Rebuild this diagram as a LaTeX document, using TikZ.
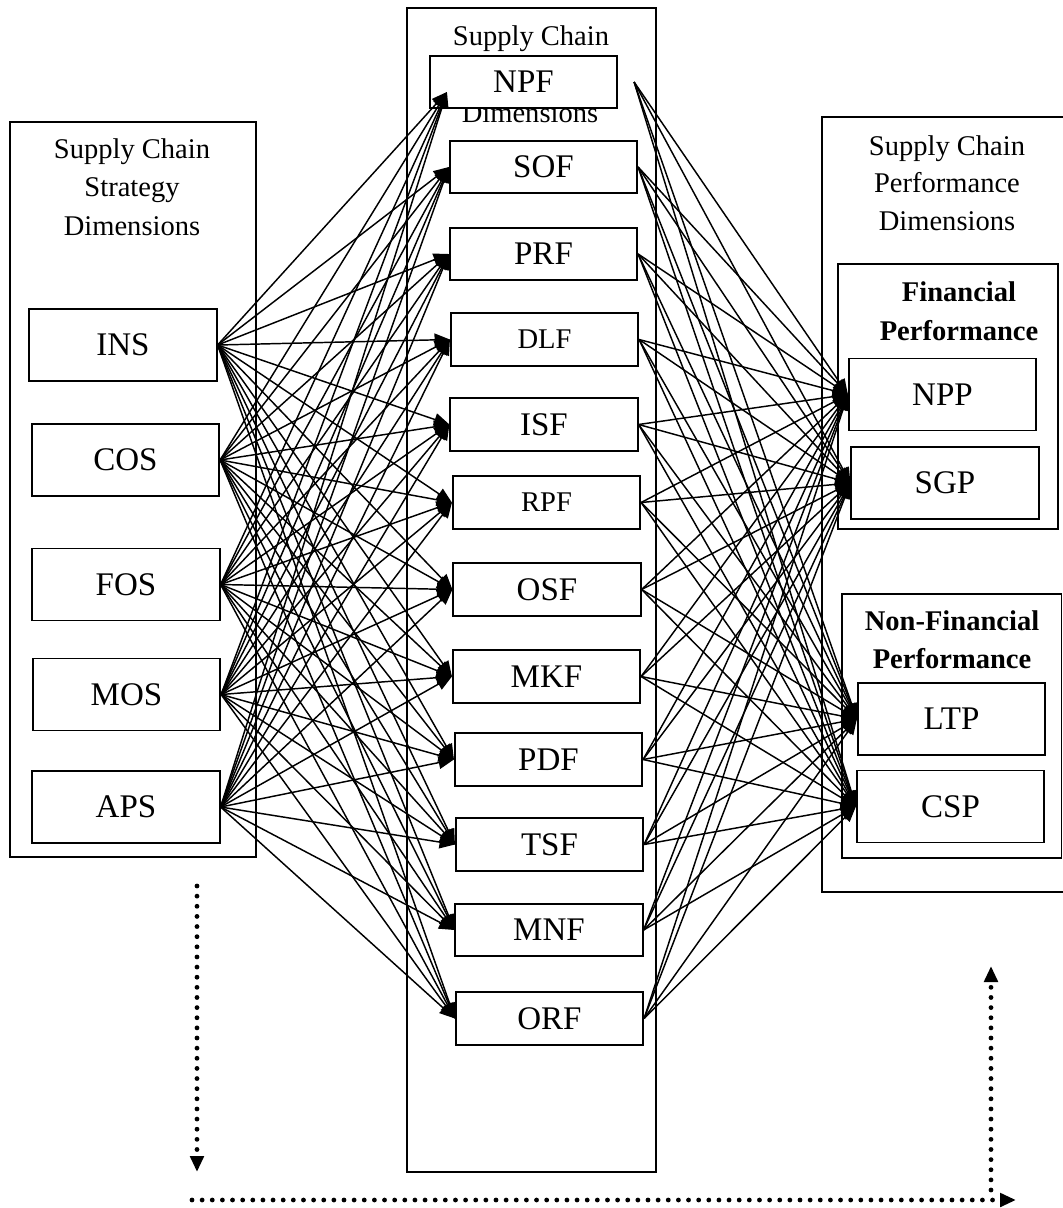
\documentclass[tikz,border=0pt]{standalone}
\usepackage{fontspec}
\setmainfont{Liberation Serif}
\usetikzlibrary{arrows.meta}
\begin{document}
\begin{tikzpicture}[x=0.75pt,y=-0.75pt,
  outer/.style={line width=1.4pt},
  nbox/.style={draw,line width=1.4pt,fill=white,inner sep=0pt,minimum width=140.5pt,font=\fontsize{24.75}{29}\selectfont},
  lbox/.style={nbox,minimum height=54pt},
  mbox/.style={nbox,minimum height=39.5pt},
  small/.style={font=\fontsize{21.4}{26}\selectfont},
  ttl/.style={anchor=base,inner sep=0pt,font=\fontsize{21.4}{26}\selectfont},
  bttl/.style={ttl,font=\fontsize{21.4}{26}\selectfont\bfseries},
  conn/.style={line width=1.1pt,-{Triangle[length=11.5pt,width=9.5pt]}},
  dots/.style={line width=3.6pt,dash pattern=on 0pt off 7.6pt,line cap=round,-{Triangle[length=12pt,width=10pt]}}]
\useasboundingbox (0,0) rectangle (1063,1208);
% outer group boxes
\draw[outer] (10,122) rectangle (256,857);
\draw[outer] (407,8) rectangle (656,1172);
\draw[outer] (1063,117) -| (822,892) -- (1063,892);
\draw[outer] (838,264) rectangle (1058,529);
\draw[outer] (842,594) rectangle (1061.5,858);
% titles
\node[ttl] (lt1) at (132,158) {Supply Chain};
\node[ttl] (lt2) at (132,196) {Strategy};
\node[ttl] (lt3) at (132,235) {Dimensions};
\node[ttl] (mt1) at (531,45) {Supply Chain};
\node[ttl] (mt2) at (530,122) {Dimensions};
\node[ttl] (rt1) at (947,155) {Supply Chain};
\node[ttl] (rt2) at (947,192) {Performance};
\node[ttl] (rt3) at (947,230) {Dimensions};
\node[bttl] (ft1) at (959,301) {Financial};
\node[bttl] (ft2) at (959,340) {Performance};
\node[bttl] (nt1) at (952,630) {Non-Financial};
\node[bttl] (nt2) at (952,668) {Performance};
% left nodes
\node[lbox] (INS) at (123,345) {INS};
\node[lbox] (COS) at (125.5,460) {COS};
\node[lbox] (FOS) at (126,584.5) {FOS};
\node[lbox] (MOS) at (126.5,694.5) {MOS};
\node[lbox] (APS) at (126,807) {APS};
% middle nodes
\node[mbox] (NPF) at (523.5,82) {NPF};
\node[mbox] (SOF) at (543.5,167) {SOF};
\node[mbox] (PRF) at (543.5,254) {PRF};
\node[mbox,small] (DLF) at (544.5,339.5) {DLF};
\node[mbox] (ISF) at (544,424.5) {ISF};
\node[mbox,small] (RPF) at (546.5,502.5) {RPF};
\node[mbox] (OSF) at (547,589.5) {OSF};
\node[mbox] (MKF) at (546.5,676.5) {MKF};
\node[mbox] (PDF) at (548.5,759.5) {PDF};
\node[mbox] (TSF) at (549.5,844.5) {TSF};
\node[mbox] (MNF) at (549,930) {MNF};
\node[mbox] (ORF) at (549.5,1018.5) {ORF};
% right nodes
\node[lbox] (NPP) at (942.5,394.5) {NPP};
\node[lbox] (SGP) at (945,483) {SGP};
\node[lbox] (LTP) at (951.5,719) {LTP};
\node[lbox] (CSP) at (950.5,806.5) {CSP};
% connectors strategy -> enablers
\foreach \s in {INS,COS,FOS,MOS,APS}{
  \draw[conn] (\s.east) -- ([xshift=13.5pt,yshift=-7.5pt]NPF.west);
  \foreach \t in {SOF,PRF,DLF,ISF,RPF,OSF,MKF,PDF,TSF,MNF,ORF}{
    \draw[conn] (\s.east) -- (\t.west);
  }
}
% connectors enablers -> performance
\foreach \t in {NPP,SGP,LTP,CSP}{
  \draw[conn] ([xshift=12pt]NPF.east) -- (\t.west);
  \foreach \s in {SOF,PRF,DLF,ISF,RPF,OSF,MKF,PDF,TSF,MNF,ORF}{
    \draw[conn] (\s.east) -- (\t.west);
  }
}
% dotted feedback arrows
\coordinate (dl1) at (197,886);
\coordinate (dl2) at (197,1172);
\coordinate (dh1) at (192,1200);
\coordinate (dh2) at (1016,1200);
\coordinate (dr1) at (991,1190);
\coordinate (dr2) at (991,966);
\draw[dots] (dl1) -- (dl2);
\draw[dots] (dh1) -- (dh2);
\draw[dots] (dr1) -- (dr2);
\end{tikzpicture}
\end{document}
